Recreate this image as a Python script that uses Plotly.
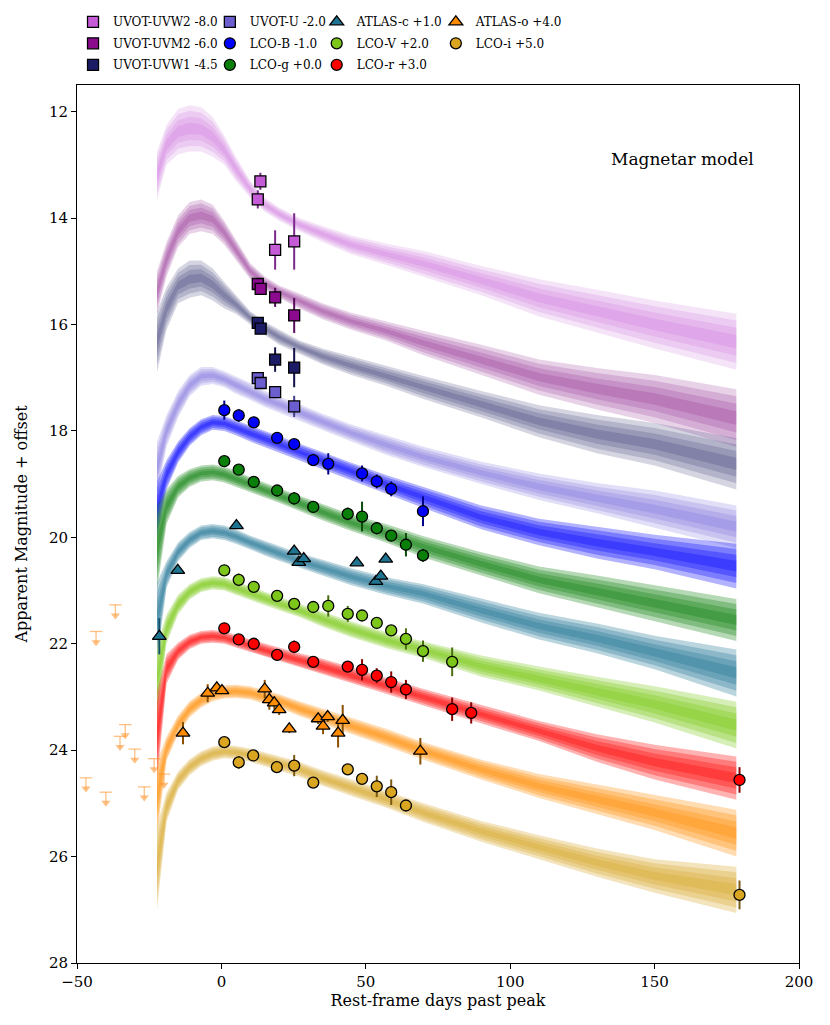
import plotly.graph_objects as go

# ---------------- model bands (bright / faint edge of each band) -------------
band_days = [-22.3, -19, -15, -11, -7, -3, 1, 5, 10, 15, 20, 27, 35, 45, 57, 70, 90, 110, 130, 150, 178.3]

uvw2_top = [12.75, 12.25, 11.95, 11.88, 11.92, 12.1, 12.45, 12.85, 13.3, 13.62, 13.8, 14.0, 14.15, 14.33, 14.48, 14.62, 14.9, 15.15, 15.35, 15.55, 15.8]
uvw2_bot = [13.65, 13.0, 12.8, 12.75, 12.75, 12.85, 13.0, 13.3, 13.62, 13.88, 14.05, 14.25, 14.45, 14.68, 14.88, 15.1, 15.45, 15.85, 16.15, 16.45, 16.85]
uvm2_top = [15.0, 14.45, 13.95, 13.7, 13.65, 13.75, 14.05, 14.4, 14.85, 15.1, 15.27, 15.42, 15.6, 15.78, 15.95, 16.12, 16.38, 16.66, 16.82, 16.95, 17.22]
uvm2_bot = [15.8, 15.1, 14.55, 14.3, 14.25, 14.3, 14.5, 14.8, 15.15, 15.35, 15.5, 15.7, 15.9, 16.1, 16.3, 16.58, 16.95, 17.32, 17.6, 17.85, 18.3]
uvw1_top = [15.75, 15.3, 14.95, 14.8, 14.8, 14.95, 15.2, 15.45, 15.75, 15.95, 16.1, 16.3, 16.45, 16.6, 16.78, 16.97, 17.25, 17.52, 17.7, 17.85, 18.14]
uvw1_bot = [16.9, 16.1, 15.6, 15.5, 15.45, 15.55, 15.7, 15.8, 16.0, 16.2, 16.38, 16.55, 16.75, 16.95, 17.15, 17.4, 17.75, 18.12, 18.42, 18.65, 19.1]
u_top = [18.2, 17.7, 17.25, 16.95, 16.8, 16.8, 16.88, 16.98, 17.1, 17.25, 17.35, 17.5, 17.68, 17.88, 18.08, 18.3, 18.58, 18.8, 18.98, 19.12, 19.4]
u_bot = [19.2, 18.3, 17.75, 17.35, 17.15, 17.12, 17.18, 17.3, 17.42, 17.55, 17.65, 17.8, 17.98, 18.2, 18.45, 18.68, 19.0, 19.3, 19.55, 19.82, 20.2]
b_top = [18.95, 18.55, 18.2, 17.95, 17.78, 17.7, 17.72, 17.8, 17.9, 18.0, 18.1, 18.25, 18.4, 18.6, 18.83, 19.05, 19.4, 19.65, 19.8, 19.95, 20.12]
b_bot = [20.0, 19.1, 18.6, 18.28, 18.08, 17.98, 18.0, 18.08, 18.2, 18.3, 18.4, 18.55, 18.72, 18.92, 19.18, 19.45, 19.85, 20.15, 20.4, 20.6, 20.96]
g_top = [19.4, 19.1, 18.85, 18.72, 18.65, 18.63, 18.67, 18.75, 18.87, 18.98, 19.08, 19.22, 19.38, 19.57, 19.75, 19.98, 20.28, 20.55, 20.72, 20.9, 21.16]
g_bot = [21.0, 19.75, 19.25, 19.05, 18.95, 18.93, 18.97, 19.05, 19.15, 19.25, 19.35, 19.5, 19.68, 19.88, 20.1, 20.38, 20.72, 21.05, 21.32, 21.58, 21.95]
c_top = [20.85, 20.45, 20.1, 19.9, 19.78, 19.75, 19.78, 19.85, 19.97, 20.07, 20.17, 20.3, 20.42, 20.58, 20.75, 20.88, 21.15, 21.42, 21.62, 21.85, 22.11]
c_bot = [22.3, 20.95, 20.45, 20.2, 20.05, 20.02, 20.05, 20.12, 20.23, 20.34, 20.44, 20.58, 20.72, 20.9, 21.08, 21.25, 21.6, 21.92, 22.18, 22.48, 22.99]
v_top = [22.0, 21.45, 21.08, 20.88, 20.77, 20.73, 20.75, 20.83, 20.93, 21.03, 21.12, 21.25, 21.4, 21.58, 21.78, 21.96, 22.22, 22.43, 22.62, 22.8, 23.09]
v_bot = [23.4, 22.0, 21.45, 21.17, 21.03, 20.98, 21.0, 21.08, 21.18, 21.28, 21.37, 21.5, 21.68, 21.88, 22.08, 22.27, 22.62, 22.88, 23.18, 23.48, 23.97]
r_top = [22.9, 22.2, 21.98, 21.83, 21.76, 21.74, 21.77, 21.83, 21.92, 22.0, 22.08, 22.18, 22.28, 22.45, 22.64, 22.85, 23.15, 23.45, 23.7, 23.9, 24.12]
r_bot = [24.6, 22.75, 22.3, 22.1, 22.0, 21.98, 22.0, 22.07, 22.16, 22.25, 22.33, 22.44, 22.57, 22.74, 22.94, 23.16, 23.5, 23.83, 24.22, 24.55, 24.93]
o_top = [24.2, 23.75, 23.35, 23.08, 22.92, 22.82, 22.78, 22.77, 22.8, 22.87, 22.95, 23.08, 23.22, 23.4, 23.6, 23.85, 24.18, 24.45, 24.65, 24.85, 25.12]
o_bot = [25.6, 24.2, 23.7, 23.38, 23.2, 23.08, 23.03, 23.02, 23.05, 23.12, 23.2, 23.36, 23.52, 23.7, 23.92, 24.18, 24.55, 24.9, 25.2, 25.5, 26.0]
i_top = [25.4, 24.8, 24.4, 24.17, 24.02, 23.93, 23.9, 23.92, 23.97, 24.04, 24.12, 24.22, 24.38, 24.55, 24.77, 25.0, 25.33, 25.6, 25.85, 26.05, 26.19]
i_bot = [27.0, 25.35, 24.75, 24.47, 24.3, 24.2, 24.15, 24.17, 24.22, 24.3, 24.38, 24.5, 24.67, 24.86, 25.08, 25.35, 25.72, 26.05, 26.38, 26.68, 27.06]

# ---------------- photometry (magnitude + offset as plotted) ----------------
uvw2_day = [12.6, 13.5, 18.6, 25.2]
uvw2_mag = [13.65, 13.31, 14.60, 14.44]
uvw2_err = [0.17, 0.16, 0.37, 0.53]
uvm2_day = [12.6, 13.6, 18.6, 25.2]
uvm2_mag = [15.24, 15.33, 15.49, 15.83]
uvm2_err = [0.08, 0.10, 0.18, 0.33]
uvw1_day = [12.6, 13.6, 18.6, 25.2]
uvw1_mag = [15.97, 16.08, 16.66, 16.81]
uvw1_err = [0.08, 0.10, 0.23, 0.37]
u_day = [12.6, 13.6, 18.6, 25.2]
u_mag = [17.01, 17.10, 17.27, 17.54]
u_err = [0.05, 0.05, 0.10, 0.20]
b_day = [1.0, 6.0, 11.2, 19.3, 25.2, 31.8, 37.0, 48.7, 53.8, 58.8, 69.8]
b_mag = [17.61, 17.71, 17.84, 18.13, 18.25, 18.55, 18.62, 18.80, 18.95, 19.09, 19.51]
b_err = [0.18, 0.12, 0.10, 0.05, 0.07, 0.07, 0.20, 0.15, 0.13, 0.14, 0.28]
g_day = [1.0, 6.0, 11.2, 19.3, 25.2, 31.8, 43.75, 48.7, 53.8, 58.8, 63.9, 69.8]
g_mag = [18.57, 18.73, 18.96, 19.12, 19.27, 19.43, 19.56, 19.61, 19.83, 19.97, 20.14, 20.34]
g_err = [0.04, 0.05, 0.05, 0.05, 0.12, 0.05, 0.12, 0.28, 0.06, 0.08, 0.22, 0.12]
c_day = [-21.5, -15.1, 5.2, 25.2, 26.8, 28.5, 46.9, 53.5, 55.2, 56.9]
c_mag = [21.86, 20.62, 19.78, 20.26, 20.47, 20.40, 20.48, 20.83, 20.73, 20.41]
c_err = [0.34, 0.04, 0.04, 0.04, 0.04, 0.04, 0.04, 0.04, 0.04, 0.04]
v_day = [1.0, 6.0, 11.2, 19.3, 25.2, 31.8, 37.0, 43.75, 48.7, 53.8, 58.8, 63.9, 69.8, 79.9]
v_mag = [20.62, 20.80, 20.93, 21.10, 21.25, 21.31, 21.29, 21.44, 21.47, 21.61, 21.75, 21.91, 22.14, 22.34]
v_err = [0.04, 0.12, 0.05, 0.05, 0.10, 0.05, 0.20, 0.15, 0.05, 0.10, 0.06, 0.20, 0.20, 0.27]
r_day = [1.0, 6.0, 11.2, 19.3, 25.2, 31.8, 43.75, 48.7, 53.8, 58.8, 63.9, 79.9, 86.5, 179.4]
r_mag = [21.71, 21.92, 22.00, 22.21, 22.06, 22.34, 22.43, 22.49, 22.60, 22.72, 22.86, 23.23, 23.30, 24.56]
r_err = [0.04, 0.05, 0.05, 0.05, 0.12, 0.05, 0.08, 0.20, 0.14, 0.20, 0.18, 0.22, 0.20, 0.24]
o_day = [-13.3, -4.75, -1.6, 0.2, 15.0, 16.6, 18.3, 20.0, 23.5, 33.5, 35.2, 36.8, 40.4, 42.0, 68.9]
o_mag = [23.68, 22.93, 22.83, 22.88, 22.85, 23.05, 23.11, 23.24, 23.60, 23.41, 23.55, 23.37, 23.68, 23.44, 24.02]
o_err = [0.21, 0.17, 0.05, 0.05, 0.17, 0.19, 0.12, 0.10, 0.08, 0.10, 0.15, 0.10, 0.27, 0.29, 0.25]
i_day = [1.0, 6.0, 11.0, 19.2, 25.2, 31.8, 43.75, 48.7, 53.8, 58.8, 63.9, 179.4]
i_mag = [23.85, 24.23, 24.10, 24.32, 24.29, 24.61, 24.36, 24.54, 24.68, 24.79, 25.04, 26.72]
i_err = [0.04, 0.12, 0.05, 0.05, 0.20, 0.05, 0.08, 0.05, 0.20, 0.24, 0.07, 0.27]

# ATLAS-o upper limits (pre-explosion)
ul_day = [-46.9, -43.4, -40.0, -36.7, -35.1, -33.3, -30.0, -26.7, -23.3, -19.9]
ul_mag = [24.52, 21.77, 24.79, 21.27, 23.74, 23.52, 23.98, 24.69, 24.16, 24.45]

names = ["UVOT-UVW2", "UVOT-UVM2", "UVOT-UVW1", "UVOT-U", "LCO-B", "LCO-g",
         "ATLAS-c", "LCO-V", "LCO-r", "ATLAS-o", "LCO-i"]
offsets = [-8.0, -6.0, -4.5, -2.0, -1.0, 0.0, 1.0, 2.0, 3.0, 4.0, 5.0]

# styling per filter
marker_col = ["#c55bd6", "#8b0a8e", "#1c1c66", "#6b5fd0", "#0000ff", "#0a800a",
              "#1f7591", "#7dc61a", "#ff0000", "#ff8c00", "#daa520"]
err_col = ["#7a2a8a", "#5a0a5a", "#12124a", "#45408a", "#00008b", "#0a4a0a",
           "#15506a", "#4a7010", "#8b0000", "#8a5000", "#7a5a14"]
band_rgb = ["195,90,215", "140,30,140", "45,45,110", "105,90,215", "0,0,255", "10,125,10",
            "30,115,150", "120,200,15", "255,0,0", "255,140,0", "215,165,40"]
band_alpha = [0.17, 0.2, 0.2, 0.2, 0.3, 0.3, 0.3, 0.3, 0.3, 0.3, 0.3]
symbols = ["square"] * 4 + ["circle"] * 2 + ["triangle-up", "circle", "circle", "triangle-up", "circle"]
# matplotlib-style 4-column legend: one plotly legend per column
legend_of = ["legend", "legend", "legend", "legend2", "legend2", "legend2",
             "legend3", "legend3", "legend3", "legend4", "legend4"]

tops = [uvw2_top, uvm2_top, uvw1_top, u_top, b_top, g_top, c_top, v_top, r_top, o_top, i_top]
bots = [uvw2_bot, uvm2_bot, uvw1_bot, u_bot, b_bot, g_bot, c_bot, v_bot, r_bot, o_bot, i_bot]
days = [uvw2_day, uvm2_day, uvw1_day, u_day, b_day, g_day, c_day, v_day, r_day, o_day, i_day]
mags = [uvw2_mag, uvm2_mag, uvw1_mag, u_mag, b_mag, g_mag, c_mag, v_mag, r_mag, o_mag, i_mag]
errs = [uvw2_err, uvm2_err, uvw1_err, u_err, b_err, g_err, c_err, v_err, r_err, o_err, i_err]

fig = go.Figure()

# bands: full spread plus denser inner layers (stands in for the many MCMC draws)
for k in range(len(names)):
    top, bot = tops[k], bots[k]
    for f in (0.0, 0.12, 0.25, 0.38):
        t = [a + f * (b - a) for a, b in zip(top, bot)]
        b_ = [b - f * (b - a) for a, b in zip(top, bot)]
        fig.add_trace(go.Scatter(
            x=band_days + band_days[::-1], y=t + b_[::-1],
            mode="lines", fill="toself", line=dict(width=0),
            fillcolor=f"rgba({band_rgb[k]},{band_alpha[k]})",
            hoverinfo="skip", showlegend=False))

# upper limits: cap + stem + arrow head
ul_col = "rgba(255,150,50,0.6)"
fig.add_trace(go.Scatter(
    x=ul_day, y=ul_mag, mode="markers", showlegend=False,
    marker=dict(symbol="line-ew", size=9, line=dict(width=1.3, color=ul_col)),
    error_y=dict(type="data", symmetric=False, array=[0.2] * len(ul_mag),
                 arrayminus=[0] * len(ul_mag), color=ul_col, thickness=1.3, width=0)))
fig.add_trace(go.Scatter(
    x=ul_day, y=[m + 0.2 for m in ul_mag], mode="markers", showlegend=False,
    marker=dict(symbol="triangle-down", size=8, color=ul_col, line=dict(width=0))))

# photometry
for k in range(len(names)):
    fig.add_trace(go.Scatter(
        x=days[k], y=mags[k], mode="markers",
        name=f"{names[k]} {offsets[k]:+.1f}",
        legend=legend_of[k], legendgroup=names[k],
        marker=dict(symbol=symbols[k], size=11 if symbols[k] != "triangle-up" else 12,
                    color=marker_col[k], line=dict(width=1.3, color="black")),
        error_y=dict(type="data", array=errs[k], color=err_col[k], thickness=2, width=0)))

fig.add_annotation(x=0.839, y=0.916, xref="paper", yref="paper", text="Magnetar model",
                   xanchor="center", yanchor="middle",
                   showarrow=False, font=dict(size=17, color="black"))

axis_font = dict(family="DejaVu Serif", size=15, color="black")
fig.update_xaxes(range=[-50, 200], tickvals=[-50, 0, 50, 100, 150, 200],
                 title=dict(text="Rest-frame days past peak", font=dict(size=16), standoff=4),
                 showline=True, linecolor="black", linewidth=1, mirror=True,
                 ticks="outside", ticklen=5, tickcolor="black", showgrid=False, zeroline=False,
                 tickfont=axis_font)
fig.update_yaxes(range=[28, 11.5], tickvals=list(range(12, 29, 2)),
                 title=dict(text="Apparent Magnitude + offset", font=dict(size=16), standoff=17),
                 showline=True, linecolor="black", linewidth=1, mirror=True,
                 ticks="outside", ticklen=5, tickcolor="black", showgrid=False, zeroline=False,
                 tickfont=axis_font)

leg = dict(orientation="v", xanchor="left", y=1.0885, yanchor="top", traceorder="grouped",
           tracegroupgap=2.5, font=dict(size=12), bgcolor="rgba(0,0,0,0)")
fig.update_layout(
    width=830, height=1025,
    margin=dict(l=77, r=31, t=85, b=62, autoexpand=False),
    plot_bgcolor="white", paper_bgcolor="white",
    font=dict(family="DejaVu Serif", color="black"),
    legend=dict(leg, x=-0.0055),
    legend2=dict(leg, x=0.184),
    legend3=dict(leg, x=0.332),
    legend4=dict(leg, x=0.497),
)

# page body margin would shift the figure by 8px
fig.write_html("out.html", config={"displayModeBar": False},
               post_script="document.body.style.margin='0';")
